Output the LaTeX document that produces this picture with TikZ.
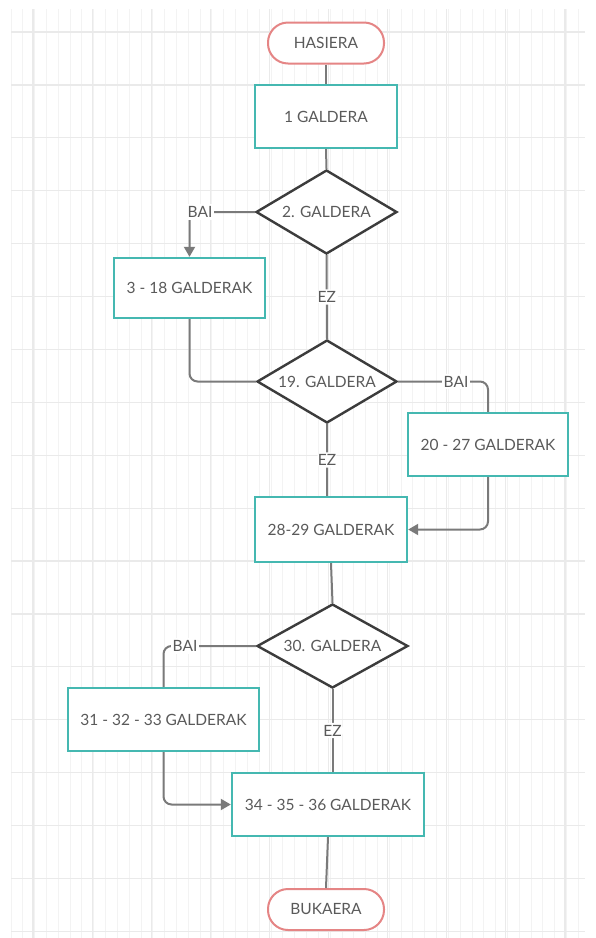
\documentclass[tikz,border=0pt]{standalone}
\usepackage{fontspec}
\setmainfont{Lato}
\usetikzlibrary{shapes.geometric,arrows.meta}
\definecolor{teal1}{HTML}{45B8B1}
\definecolor{salmon1}{HTML}{E58585}
\definecolor{dk1}{HTML}{3C3C3C}
\definecolor{ln1}{HTML}{7A7A7A}
\definecolor{tx1}{HTML}{5A5A5A}
\definecolor{gmaj}{HTML}{EAEAEA}
\definecolor{gmin}{HTML}{F3F3F3}
\begin{document}
\begin{tikzpicture}[x=1pt,y=-1pt,
  every node/.style={font=\fontsize{15.5}{18}\selectfont, text=tx1},
  termbox/.style={draw=salmon1, line width=2pt, rounded corners=20pt, fill=white, minimum width=116pt, minimum height=41pt, inner sep=0pt},
  procbox/.style={draw=teal1, line width=2.4pt, fill=white, inner sep=0pt},
  decbox/.style={diamond, draw=dk1, line width=2.4pt, fill=white, inner sep=0pt, aspect=1.7},
  conn/.style={draw=ln1, line width=2pt, rounded corners=8pt},
  arr/.style={-{Triangle[length=10pt,width=11pt]}},
  lbl/.style={fill=white, inner sep=2pt}
]
\useasboundingbox (0,0) rectangle (596,938);
\fill[white] (0,0) rectangle (596,938);
% grid
\foreach \i in {0,...,48} { \draw[gmin, line width=0.9pt] ({11+11.82*\i},9) -- ({11+11.82*\i},938); }
\foreach \i in {0,...,9} { \draw[gmaj, line width=1.2pt] ({33+59.1*\i},9) -- ({33+59.1*\i},938); }
\foreach \i in {0,...,17} { \draw[gmaj, line width=1.2pt] (11,{32+52.9*\i}) -- (585,{32+52.9*\i}); }

% nodes
\node[termbox] (hasiera) at (326,43) {HASIERA};
\node[procbox, minimum width=142pt, minimum height=63pt] (g1) at (326,116.5) {1 GALDERA};
\node[decbox, minimum width=141pt, minimum height=84pt] (d2) at (326.5,212) {2. GALDERA};
\node[procbox, minimum width=151pt, minimum height=60pt] (g318) at (189.5,288) {3 - 18 GALDERAK};
\node[decbox, minimum width=140pt, minimum height=83pt] (d19) at (327,381.5) {19. GALDERA};
\node[procbox, minimum width=160pt, minimum height=63pt] (g2027) at (488,444.5) {20 - 27 GALDERAK};
\node[procbox, minimum width=152pt, minimum height=65pt] (g2829) at (331,529.5) {28-29 GALDERAK};
\node[decbox, minimum width=151pt, minimum height=84pt] (d30) at (332.5,646) {30. GALDERA};
\node[procbox, minimum width=191pt, minimum height=63pt] (g3133) at (163.5,719.5) {31 - 32 - 33 GALDERAK};
\node[procbox, minimum width=192pt, minimum height=63pt] (g3436) at (328,804.5) {34 - 35 - 36 GALDERAK};
\node[termbox] (bukaera) at (326,909.5) {BUKAERA};

% connectors
\draw[conn] (hasiera.south) -- (g1.north);
\draw[conn] (g1.south) -- (d2.north);
\draw[conn, arr] (d2.west) -| (g318.north);
\node[lbl] (bai1) at (200,212) {BAI};
\draw[conn] (d2.south) -- (d19.north) node[lbl, midway] (ez1) {EZ};
\draw[conn] (g318.south) |- (d19.west);
\draw[conn] (d19.east) -| (g2027.north);
\node[lbl] (bai2) at (456,381.5) {BAI};
\draw[conn, arr] (g2027.south) |- (g2829.east);
\draw[conn] (d19.south) -- (d19.south |- g2829.north) node[lbl, midway] (ez2) {EZ};
\draw[conn] (g2829.south) -- (d30.north);
\draw[conn] (d30.west) -| (g3133.north);
\node[lbl] (bai3) at (185,646) {BAI};
\draw[conn, arr] (g3133.south) |- (g3436.west);
\draw[conn] (d30.south) -- (d30.south |- g3436.north) node[lbl, midway] (ez3) {EZ};
\draw[conn] (g3436.south) -- (bukaera.north);
\end{tikzpicture}
\end{document}
